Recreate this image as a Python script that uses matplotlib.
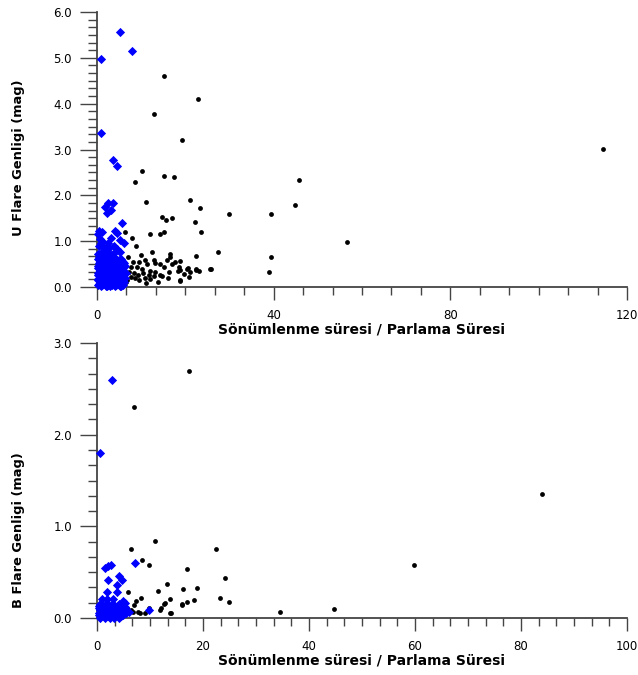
import numpy as np
import matplotlib
matplotlib.use("Agg")
import matplotlib.pyplot as plt
from matplotlib.ticker import MultipleLocator, FormatStrFormatter

# ── U band: flare amplitude vs decay/rise time ratio ────────────────────────
u_black_x = [15.1, 22.8, 12.8, 19.2, 114.5, 10.1, 15.2, 17.4, 8.5, 45.8,
             11.1, 21.0, 44.8, 23.4, 29.8, 39.4, 14.8, 15.7, 17.1, 22.2,
             23.6, 12.0, 14.2, 15.1, 6.4, 7.9, 56.5, 8.9, 1.9, 12.4,
             27.3, 16.6, 22.5, 9.9, 7.1, 39.3, 8.1, 9.6, 10.9, 12.8,
             13.2, 15.8, 16.6, 17.7, 18.9, 11.3, 14.3, 15.1, 17.0, 18.5,
             20.5, 22.5, 25.7, 7.7, 9.0, 10.2, 12.0, 13.2, 16.4, 18.3,
             21.0, 7.3, 8.3, 9.4, 10.5, 11.7, 12.8, 14.3, 14.7, 18.9,
             7.7, 8.6, 10.9, 9.6, 6.9, 11.9, 20.8, 18.9, 25.8, 22.5,
             23.0, 20.4, 18.7, 38.9, 13.9, 16.0, 6.6, 5.9, 19.6, 11.0]
u_black_y = [4.60, 4.10, 3.77, 3.20, 3.01, 2.54, 2.43, 2.39, 2.29, 2.34,
             1.86, 1.89, 1.79, 1.72, 1.60, 1.59, 1.53, 1.46, 1.51, 1.41,
             1.21, 1.16, 1.16, 1.21, 1.21, 1.06, 0.98, 0.89, 0.87, 0.77,
             0.77, 0.72, 0.68, 0.70, 0.66, 0.65, 0.55, 0.55, 0.60, 0.60,
             0.53, 0.59, 0.66, 0.55, 0.57, 0.50, 0.50, 0.44, 0.50, 0.44,
             0.42, 0.37, 0.39, 0.44, 0.43, 0.39, 0.36, 0.33, 0.33, 0.36,
             0.32, 0.33, 0.30, 0.26, 0.31, 0.26, 0.23, 0.26, 0.23, 0.14,
             0.21, 0.19, 0.19, 0.15, 0.15, 0.17, 0.22, 0.15, 0.39, 0.39,
             0.36, 0.39, 0.37, 0.32, 0.12, 0.20, 0.10, 0.38, 0.28, 0.09]

u_blue_x = [5.1, 7.9, 0.8, 0.8, 3.7, 4.5, 2.6, 3.6, 1.9, 3.2,
            2.3, 5.7, 4.0, 4.5, 0.4, 1.1, 3.2, 5.3, 6.1, 2.6,
            0.8, 4.5, 5.3, 3.4, 0.3, 0.6, 1.2, 0.5, 1.5, 2.0,
            1.0, 2.8, 3.8, 4.2, 3.0, 5.0, 5.8,
            0.3, 1.2, 2.2, 3.5, 4.6, 5.5,
            0.5, 1.6, 2.7, 3.9, 5.0, 6.2,
            0.2, 1.0, 2.0, 3.1, 4.3, 5.4, 6.4,
            0.6, 1.5, 2.5, 3.6, 4.8, 5.9,
            0.3, 1.2, 2.2, 3.3, 4.4, 5.5, 6.5,
            0.7, 1.7, 2.8, 3.8, 5.0, 6.0,
            0.3, 1.3, 2.3, 3.4, 4.5, 5.6, 6.3,
            0.8, 1.8, 2.9, 4.0, 5.1, 6.1,
            0.4, 1.4, 2.5, 3.5, 4.7, 5.8,
            0.9, 2.0, 3.0, 4.1, 5.2,
            0.5, 1.4, 2.4, 3.8,
            0.3, 1.8, 2.9,
            0.9, 2.1, 3.3, 4.4, 5.6,
            0.6, 1.5, 2.6, 3.7, 4.8, 5.9,
            0.3, 1.3, 2.3, 3.4, 4.5, 5.5,
            0.8, 1.8, 2.8, 3.9, 5.0, 6.0,
            0.2, 1.3, 2.4, 3.4, 4.5, 5.6,
            0.6, 1.7, 2.8, 3.9, 5.0, 6.1,
            0.2, 1.1, 2.1, 3.2, 4.2, 5.3, 6.0,
            0.6, 1.6, 2.6, 3.7, 4.8, 5.7,
            0.3, 1.1, 2.2, 3.3, 4.4, 5.5]
u_blue_y = [5.57, 5.16, 4.97, 3.36, 2.77, 2.65, 1.84, 1.83, 1.74, 1.68,
            1.62, 1.39, 1.23, 1.17, 1.23, 1.21, 1.08, 1.03, 0.95, 0.95,
            0.95, 0.84, 0.77, 0.70, 1.15, 1.05, 1.00, 0.90, 0.85, 0.80,
            0.75, 0.85, 0.90, 0.78, 0.65, 0.60, 0.55,
            0.61, 0.59, 0.62, 0.60, 0.58, 0.61,
            0.52, 0.54, 0.51, 0.53, 0.50, 0.52,
            0.45, 0.46, 0.44, 0.47, 0.45, 0.43, 0.46,
            0.38, 0.39, 0.37, 0.38, 0.40, 0.36,
            0.31, 0.32, 0.30, 0.31, 0.33, 0.29, 0.31,
            0.24, 0.25, 0.23, 0.24, 0.26, 0.22,
            0.18, 0.17, 0.19, 0.18, 0.16, 0.18, 0.19,
            0.12, 0.11, 0.13, 0.12, 0.10, 0.12,
            0.06, 0.07, 0.05, 0.06, 0.07, 0.05,
            0.02, 0.03, 0.02, 0.03, 0.02,
            0.66, 0.64, 0.67, 0.65,
            0.72, 0.73, 0.71,
            0.56, 0.57, 0.55, 0.56, 0.57,
            0.48, 0.49, 0.48, 0.47, 0.49, 0.48,
            0.41, 0.42, 0.40, 0.41, 0.42, 0.40,
            0.34, 0.35, 0.34, 0.33, 0.35, 0.34,
            0.27, 0.28, 0.27, 0.28, 0.27, 0.28,
            0.21, 0.21, 0.20, 0.21, 0.21, 0.20,
            0.15, 0.14, 0.15, 0.15, 0.14, 0.15, 0.14,
            0.09, 0.09, 0.08, 0.09, 0.09, 0.08,
            0.04, 0.04, 0.03, 0.04, 0.04, 0.03]

# ── B band ───────────────────────────────────────────────────────────────────
b_black_x = [17.4, 6.9, 83.9, 59.8, 10.9, 6.4, 22.5, 8.5, 9.9, 17.0,
             24.1, 13.2, 18.8, 16.2, 11.6, 5.9, 13.8, 8.4, 23.2, 17.0,
             18.4, 7.3, 24.9, 12.6, 16.1, 6.9, 16.0, 12.9, 12.1, 9.8,
             11.8, 6.4, 8.1, 9.0, 13.9, 13.8, 5.0, 5.6, 6.8, 7.8,
             34.5, 44.7]
b_black_y = [2.69, 2.30, 1.35, 0.58, 0.84, 0.75, 0.75, 0.63, 0.58, 0.53,
             0.44, 0.37, 0.33, 0.32, 0.30, 0.28, 0.21, 0.22, 0.22, 0.18,
             0.20, 0.19, 0.17, 0.15, 0.15, 0.14, 0.14, 0.16, 0.11, 0.11,
             0.09, 0.09, 0.06, 0.05, 0.06, 0.05, 0.07, 0.11, 0.07, 0.07,
             0.07, 0.10]

b_blue_x = [2.9, 0.6, 7.2, 1.5, 2.0, 2.65, 2.1, 4.2, 4.8, 3.7,
            1.8, 3.7, 0.95, 1.95, 3.1, 5.0, 5.3, 9.9, 6.1,
            0.3, 0.9, 1.5, 2.1, 2.8, 3.4, 4.0, 4.6, 5.2,
            0.5, 1.2, 1.8, 2.4, 3.1, 3.7, 4.3, 4.9,
            0.4, 1.0, 1.6, 2.3, 2.9, 3.5, 4.1, 4.8, 5.5,
            0.7, 1.3, 2.0, 2.6, 3.2, 3.9, 4.5,
            0.6, 1.8, 3.0, 4.2,
            0.3, 1.5, 2.7, 3.9, 5.1,
            0.8, 1.4, 2.0, 2.6, 3.3, 4.0, 4.6, 5.3,
            0.3, 1.1, 1.9, 2.7, 3.5, 4.3, 5.0,
            0.5, 1.5, 2.4, 3.3, 4.2]
b_blue_y = [2.60, 1.80, 0.60, 0.55, 0.57, 0.58, 0.42, 0.46, 0.41, 0.36,
            0.28, 0.28, 0.21, 0.21, 0.21, 0.19, 0.16, 0.09, 0.07,
            0.13, 0.14, 0.12, 0.13, 0.14, 0.12, 0.13, 0.11, 0.12,
            0.09, 0.08, 0.10, 0.09, 0.08, 0.10, 0.09, 0.08,
            0.05, 0.06, 0.04, 0.05, 0.06, 0.05, 0.04, 0.06, 0.05,
            0.02, 0.03, 0.02, 0.03, 0.02, 0.03, 0.02,
            0.155, 0.16, 0.15, 0.155,
            0.105, 0.11, 0.10, 0.105, 0.10,
            0.07, 0.07, 0.075, 0.07, 0.07, 0.075, 0.07, 0.07,
            0.035, 0.035, 0.03, 0.035, 0.035, 0.03, 0.035,
            0.0, 0.0, 0.005, 0.0, 0.005]

XLABEL = "Sönümlenme süresi / Parlama Süresi"


def style_axis(ax, xmax, xmajor, ymax, ylabel, ylabel_y):
    for side in ("top", "right"):
        ax.spines[side].set_visible(False)
    for side in ("left", "bottom"):
        ax.spines[side].set_color("#444444")
        ax.spines[side].set_linewidth(1.3)
    ax.set_xlim(0, xmax)
    ax.set_ylim(0, ymax)
    ax.xaxis.set_major_locator(MultipleLocator(xmajor))
    ax.xaxis.set_minor_locator(MultipleLocator(xmajor / 6))
    ax.yaxis.set_major_locator(MultipleLocator(1.0))
    ax.yaxis.set_minor_locator(MultipleLocator(1.0 / 6))
    ax.yaxis.set_major_formatter(FormatStrFormatter("%.1f"))
    ax.tick_params(axis="y", which="major", length=12, width=1.0,
                   color="#444444", pad=6, labelsize=8.5)
    ax.tick_params(axis="y", which="minor", length=6.5, width=1.0,
                   color="#444444")
    ax.tick_params(axis="x", which="major", length=9.5, width=1.0,
                   color="#444444", pad=6, labelsize=8.5)
    ax.tick_params(axis="x", which="minor", length=5.5, width=1.0,
                   color="#444444")
    ax.set_xlabel(XLABEL, fontsize=10, fontweight="bold", labelpad=1)
    ax.set_ylabel(ylabel, fontsize=9.4, fontweight="bold")
    ax.yaxis.set_label_coords(-0.135, ylabel_y)


fig = plt.figure(figsize=(6.38, 6.75), dpi=100)
ax1 = fig.add_axes([0.152, 0.5748, 0.8307, 0.4074])
ax2 = fig.add_axes([0.152, 0.0844, 0.8307, 0.4074])

ax1.scatter(u_black_x, u_black_y, s=12, c="black", marker="o",
            linewidths=0, clip_on=False, zorder=3)
ax1.scatter(u_blue_x, u_blue_y, s=22, c="#0000ff", marker="D",
            linewidths=0, clip_on=False, zorder=4)
style_axis(ax1, 120, 40, 6.0, "U Flare Genligi (mag)", 0.47)

ax2.scatter(b_black_x, b_black_y, s=12, c="black", marker="o",
            linewidths=0, clip_on=False, zorder=3)
ax2.scatter(b_blue_x, b_blue_y, s=22, c="#0000ff", marker="D",
            linewidths=0, clip_on=False, zorder=4)
style_axis(ax2, 100, 20, 3.0, "B Flare Genligi (mag)", 0.32)

fig.savefig("out.png", dpi=100)
